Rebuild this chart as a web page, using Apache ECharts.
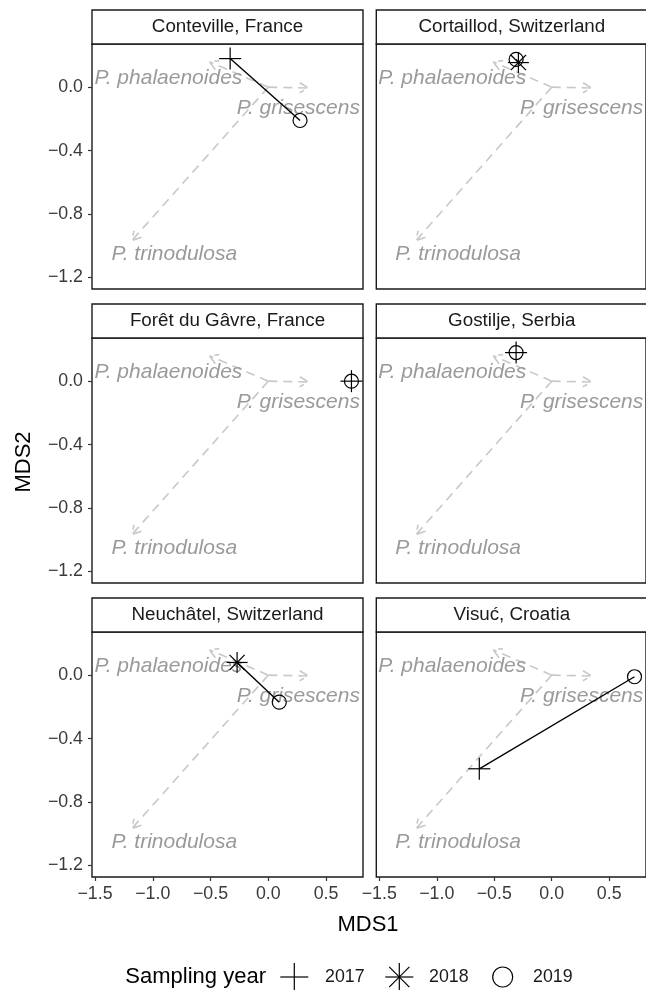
<!DOCTYPE html>
<html><head><meta charset="utf-8">
<script src="https://cdn.jsdelivr.net/npm/echarts@6/dist/echarts.min.js"></script>
<style>html,body{margin:0;padding:0;background:#fff}#c{width:646px;height:990px}</style>
</head><body><div id="c"></div>
<script>
// ---------- data ----------
const sites = ['Conteville, France', 'Cortaillod, Switzerland', 'Forêt du Gâvre, France', 'Gostilje, Serbia', 'Neuchâtel, Switzerland', 'Visuć, Croatia'];
const years = ['2017', '2018', '2019'];
const mds1_2017 = [-0.33, null, 0.72, -0.31, null, -0.63];
const mds2_2017 = [0.18, null, 0.00, 0.18, null, -0.59];
const mds1_2018 = [null, -0.29, null, null, -0.27, null];
const mds2_2018 = [null, 0.155, null, null, 0.08, null];
const mds1_2019 = [0.275, -0.31, 0.72, -0.31, 0.095, 0.72];
const mds2_2019 = [-0.21, 0.175, 0.00, 0.18, -0.17, -0.01];

const arrowSpecies = ['P. phalaenoides', 'P. grisescens', 'P. trinodulosa'];
const arrowX = [-0.51, 0.347, -1.18];
const arrowY = [0.16, -0.005, -0.966];
const labelX = [-0.865, 0.26, -0.814];
const labelY = [0.058, -0.13, -1.055];

const xTicks = [-1.5, -1.0, -0.5, 0.0, 0.5];
const yTicks = [-1.2, -0.8, -0.4, 0.0];
const xRange = [-1.526, 0.82];
const yRange = [-1.272, 0.272];

// ---------- layout ----------
const FF = '"Liberation Sans", Arial, Helvetica, sans-serif';
const colLeft = [92, 376.3];
const rowTop = [44, 338, 632];
const panelW = 271, panelH = 245, stripH = 34;

const fmt = v => (v < 0 ? '\u2212' : '') + Math.abs(v).toFixed(1);

const yearX = [mds1_2017, mds1_2018, mds1_2019];
const yearY = [mds2_2017, mds2_2018, mds2_2019];

function drawShape(kind, cx, cy, r, lw) {
  const st = { stroke: '#000', lineWidth: lw, fill: null };
  if (kind === 0) {
    return [
      { type: 'line', shape: { x1: cx - r, y1: cy, x2: cx + r, y2: cy }, style: st },
      { type: 'line', shape: { x1: cx, y1: cy - r, x2: cx, y2: cy + r }, style: st }
    ];
  } else if (kind === 1) {
    const d = r * 0.72;
    return [
      { type: 'line', shape: { x1: cx - r, y1: cy, x2: cx + r, y2: cy }, style: st },
      { type: 'line', shape: { x1: cx, y1: cy - r, x2: cx, y2: cy + r }, style: st },
      { type: 'line', shape: { x1: cx - d, y1: cy - d, x2: cx + d, y2: cy + d }, style: st },
      { type: 'line', shape: { x1: cx - d, y1: cy + d, x2: cx + d, y2: cy - d }, style: st }
    ];
  } else {
    return [{ type: 'circle', shape: { cx: cx, cy: cy, r: r }, style: st }];
  }
}
const markerR = [11, 10.5, 7];

const grids = [], xAxes = [], yAxes = [], series = [], graphics = [];

for (let i = 0; i < sites.length; i++) {
  const col = i % 2, row = Math.floor(i / 2);
  const L = colLeft[col], T = rowTop[row];
  grids.push({ left: L, top: T, width: panelW, height: panelH, show: true,
    borderColor: '#1a1a1a', borderWidth: 1.4, backgroundColor: 'transparent', containLabel: false });
  xAxes.push({ type: 'value', gridIndex: i, min: xRange[0], max: xRange[1], position: 'bottom',
    axisLine: { show: false, onZero: false }, splitLine: { show: false },
    axisTick: { show: row === 2, customValues: xTicks, length: 4, lineStyle: { color: '#333', width: 1.2 } },
    axisLabel: { show: row === 2, customValues: xTicks, formatter: fmt, fontSize: 17.8, color: '#3a3a3a', margin: 8, fontFamily: FF } });
  yAxes.push({ type: 'value', gridIndex: i, min: yRange[0], max: yRange[1], position: 'left',
    axisLine: { show: false, onZero: false }, splitLine: { show: false },
    axisTick: { show: col === 0, customValues: yTicks, length: 4, lineStyle: { color: '#333', width: 1.2 } },
    axisLabel: { show: col === 0, customValues: yTicks, formatter: fmt, fontSize: 17.8, color: '#3a3a3a', margin: 9, fontFamily: FF } });

  // arrows
  series.push({ type: 'custom', xAxisIndex: i, yAxisIndex: i, z: 2, silent: true,
    data: arrowSpecies.map((s, k) => [arrowX[k], arrowY[k]]),
    renderItem: function (params, api) {
      const o = api.coord([0, 0]);
      const t = api.coord([api.value(0), api.value(1)]);
      const dx = t[0] - o[0], dy = t[1] - o[1], len = Math.hypot(dx, dy);
      const ux = -dx / len, uy = -dy / len, a = Math.PI / 6, al = 10;
      const rot = ang => [t[0] + al * (ux * Math.cos(ang) - uy * Math.sin(ang)), t[1] + al * (ux * Math.sin(ang) + uy * Math.cos(ang))];
      const st = { stroke: '#c8c8c8', lineWidth: 1.6, lineDash: [9, 6], fill: null };
      return { type: 'group', children: [
        { type: 'line', shape: { x1: o[0], y1: o[1], x2: t[0], y2: t[1] }, style: st },
        { type: 'polyline', shape: { points: [rot(a), t, rot(-a)] }, style: st }
      ] };
    } });
  // species labels
  series.push({ type: 'custom', xAxisIndex: i, yAxisIndex: i, z: 3, silent: true,
    data: arrowSpecies.map((s, k) => [labelX[k], labelY[k]]),
    renderItem: function (params, api) {
      const p = api.coord([api.value(0), api.value(1)]);
      return { type: 'text', style: { text: arrowSpecies[params.dataIndex], x: p[0], y: p[1],
        fill: '#9a9a9a', font: 'italic 21px ' + FF, align: 'center', verticalAlign: 'middle' } };
    } });
  // connecting line
  const path = [];
  for (let y = 0; y < years.length; y++) {
    if (yearX[y][i] !== null) path.push([yearX[y][i], yearY[y][i]]);
  }
  series.push({ type: 'line', xAxisIndex: i, yAxisIndex: i, z: 4, silent: true, data: path,
    symbol: 'none', lineStyle: { color: '#000', width: 1.4 } });
  // points
  for (let y = 0; y < years.length; y++) {
    if (yearX[y][i] === null) continue;
    series.push({ type: 'custom', name: years[y], xAxisIndex: i, yAxisIndex: i, z: 5, silent: true,
      data: [[yearX[y][i], yearY[y][i]]],
      renderItem: (function (kind) { return function (params, api) {
        const p = api.coord([api.value(0), api.value(1)]);
        return { type: 'group', children: drawShape(kind, p[0], p[1], markerR[kind], 1.2) };
      }; })(y) });
  }
  // strip header
  graphics.push({ type: 'rect', z: 10, shape: { x: L, y: T - stripH, width: panelW, height: stripH },
    style: { fill: '#fff', stroke: '#1a1a1a', lineWidth: 1.4 } });
  graphics.push({ type: 'text', z: 11, x: L + panelW / 2, y: T - stripH / 2,
    style: { text: sites[i], font: '18.8px ' + FF, fill: '#1a1a1a', align: 'center', verticalAlign: 'middle' } });
}

// axis titles
graphics.push({ type: 'text', x: 368, y: 925, style: { text: 'MDS1', font: '22px ' + FF, fill: '#000', align: 'center', verticalAlign: 'middle' } });
graphics.push({ type: 'text', x: 24, y: 462, rotation: Math.PI / 2, style: { text: 'MDS2', font: '22px ' + FF, fill: '#000', align: 'center', verticalAlign: 'middle' } });

// legend
const legY = 977;
graphics.push({ type: 'text', x: 266, y: legY, style: { text: 'Sampling year', font: '22px ' + FF, fill: '#000', align: 'right', verticalAlign: 'middle' } });
const legSym = [294.3, 399.3, 502.7];
const legTxt = [325, 429, 533];
const legR = [14, 14, 10];
for (let y = 0; y < years.length; y++) {
  graphics.push({ type: 'group', children: drawShape(y, legSym[y], legY, legR[y], 1.2) });
  graphics.push({ type: 'text', x: legTxt[y], y: legY, style: { text: years[y], font: '17.8px ' + FF, fill: '#1a1a1a', align: 'left', verticalAlign: 'middle' } });
}

const chart = echarts.init(document.getElementById('c'), null, { renderer: 'canvas' });
chart.setOption({ animation: false, backgroundColor: '#fff', grid: grids, xAxis: xAxes, yAxis: yAxes, series: series, graphic: graphics });
</script>
</body></html>
